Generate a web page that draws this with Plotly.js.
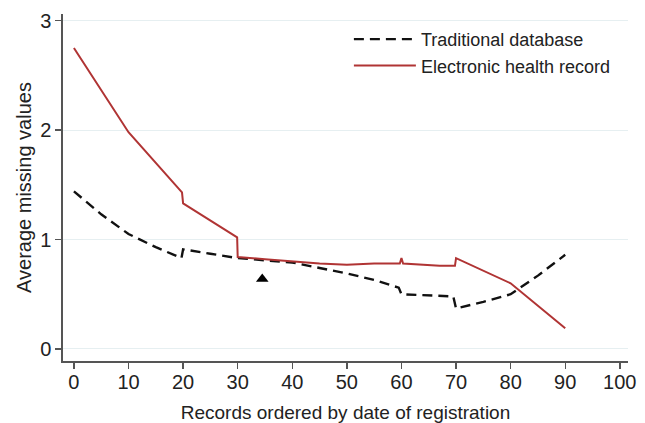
<!DOCTYPE html>
<html>
<head>
<meta charset="utf-8">
<script src="https://cdn.plot.ly/plotly-3.0.1.min.js"></script>
<style>html,body{margin:0;padding:0;background:#fff;}#chart{width:645px;height:423px;}</style>
</head>
<body>
<div id="chart"></div>
<script>
// Data
const tradX = [0, 5, 10, 15, 19.7, 20, 25, 30, 35, 40, 45, 50, 55, 59.5, 60, 69.5, 70, 75, 80, 85, 90];
const tradY = [1.44, 1.23, 1.05, 0.93, 0.83, 0.91, 0.87, 0.83, 0.81, 0.79, 0.74, 0.69, 0.63, 0.56, 0.50, 0.48, 0.37, 0.43, 0.50, 0.67, 0.86];

const ehrX = [0, 10, 19.8, 20, 29.9, 30, 35, 40, 45, 50, 55, 59.7, 60, 60.3, 63, 67, 69.8, 70, 80, 90];
const ehrY = [2.75, 1.98, 1.43, 1.33, 1.02, 0.84, 0.82, 0.80, 0.78, 0.77, 0.78, 0.78, 0.83, 0.78, 0.77, 0.76, 0.76, 0.83, 0.60, 0.19];

const markerX = [34.5];
const markerY = [0.64];

const xTicks = [0, 10, 20, 30, 40, 50, 60, 70, 80, 90, 100];
const yTicks = [0, 1, 2, 3];

const seriesNames = ["Traditional database", "Electronic health record"];

const font = "Liberation Sans, Arial, Helvetica, sans-serif";

const traces = [
  {x: tradX, y: tradY, mode: "lines", name: seriesNames[0],
   line: {color: "#111111", width: 2.4, dash: "10px,6px"}},
  {x: ehrX, y: ehrY, mode: "lines", name: seriesNames[1],
   line: {color: "#b03434", width: 2}},
  {x: markerX, y: markerY, mode: "markers", showlegend: false,
   marker: {symbol: "triangle-up", size: 11, color: "#000000"}}
];

const layout = {
  width: 645, height: 423,
  margin: {l: 63, r: 17, t: 14, b: 62, autoexpand: false},
  paper_bgcolor: "#ffffff", plot_bgcolor: "#ffffff",
  font: {family: font, size: 20, color: "#222222"},
  showlegend: true,
  legend: {x: 0.506, y: 0.98, xanchor: "left", yanchor: "top", itemwidth: 62,
           font: {family: font, size: 18, color: "#222222"}, bgcolor: "rgba(0,0,0,0)", borderwidth: 0},
  xaxis: {range: [-2, 101.5], tickvals: xTicks, ticktext: xTicks.map(String),
          showline: true, linecolor: "#555555", linewidth: 1.6,
          ticks: "outside", ticklen: 6, tickwidth: 1.4, tickcolor: "#555555",
          ticklabelstandoff: -4,
          showgrid: false, zeroline: false, tickfont: {size: 20},
          title: {text: "Records ordered by date of registration", font: {size: 19}, standoff: 16}},
  yaxis: {range: [-0.11, 3.06], tickvals: yTicks, ticktext: yTicks.map(String),
          showline: true, linecolor: "#555555", linewidth: 1.6,
          ticks: "outside", ticklen: 6, tickwidth: 1.4, tickcolor: "#555555",
          showgrid: true, gridcolor: "#e6eff1", gridwidth: 1, zeroline: false, tickfont: {size: 20},
          title: {text: "Average missing values", font: {size: 20}, standoff: 3}}
};

Plotly.newPlot("chart", traces, layout, {displayModeBar: false, staticPlot: true});
</script>
</body>
</html>
